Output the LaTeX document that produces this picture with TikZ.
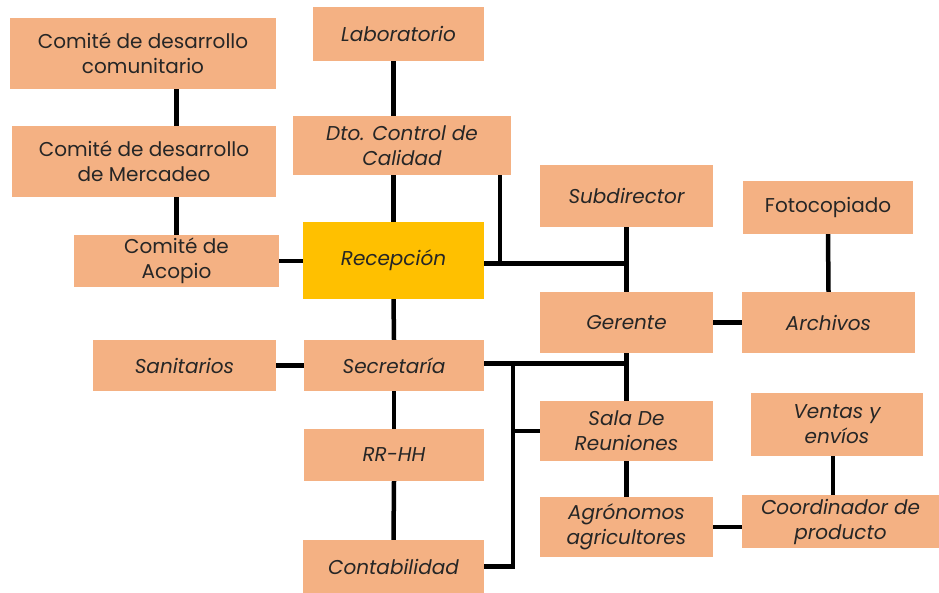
\documentclass[tikz,border=0pt]{standalone}
\usepackage{fontspec}
\setmainfont{Poppins}
\begin{document}
\begin{tikzpicture}[x=1pt,y=-1pt,
  box/.style={fill=boxc, inner sep=2pt, align=center, text=black!85, font=\fontsize{20}{25}\selectfont},
  itbox/.style={box, font=\fontsize{20}{25}\selectfont\itshape},
  conn/.style={line width=4.5pt, draw=black}]
\definecolor{boxc}{HTML}{F4B183}
\definecolor{yel}{HTML}{FFC000}
\useasboundingbox[fill=white] (0,0) rectangle (939,593);
\newcommand{\bx}[6]{\node[#1, minimum width=#4pt, minimum height=#5pt] (#2) at (#3) {#6};}
\bx{box}{com1}{143,53.5}{266}{71}{Comité de desarrollo\\comunitario}
\bx{box}{com2}{144,161.5}{264}{71}{Comité de desarrollo\\de Mercadeo}
\bx{box}{acop}{176.5,261}{205}{52}{Comité de\\Acopio}
\bx{itbox}{lab}{398.5,34}{171}{54}{Laboratorio}
\bx{itbox}{dto}{402,145.5}{218}{59}{Dto. Control de\\Calidad}
\bx{itbox,fill=yel}{rec}{393.5,260.5}{181}{77}{Recepción}
\bx{itbox}{sub}{626.5,196}{173}{62}{Subdirector}
\bx{box}{foto}{828,207.5}{170}{53}{Fotocopiado}
\bx{itbox}{ger}{626.5,322.5}{173}{61}{Gerente}
\bx{itbox}{arch}{828.5,322.5}{173}{61}{Archivos}
\bx{itbox}{san}{184.5,365.5}{183}{51}{Sanitarios}
\bx{itbox}{sec}{394,365.5}{180}{51}{Secretaría}
\bx{itbox}{rrhh}{394,455}{180}{52}{RR-HH}
\bx{itbox}{cont}{393.5,566.5}{181}{53}{Contabilidad}
\bx{itbox}{sala}{626.5,431}{173}{60}{Sala De\\Reuniones}
\bx{itbox}{ventas}{837,424.5}{172}{63}{Ventas y\\envíos}
\bx{itbox}{agro}{626.5,527}{173}{60}{Agrónomos\\agricultores}
\bx{itbox}{coord}{840.5,521.5}{197}{53}{Coordinador de\\producto}
% connectors
\draw[conn] (acop.north |- com1.south) -- (acop.north |- com2.north);
\draw[conn] (acop.north |- com2.south) -- (acop.north);
\draw[conn] (acop.east) -- (acop.east -| rec.west);
\draw[conn] (rec.north |- lab.south) -- (rec.north |- dto.north);
\draw[conn] (rec.north |- dto.south) -- (rec.north);
\coordinate (j1) at ([yshift=-3pt]rec.east -| sub.south);
\draw[conn] ([yshift=-3pt]rec.east) -- (j1);
\draw[conn] ([xshift=-11pt]dto.south east) -- ([xshift=-11pt]dto.south east |- j1);
\draw[conn] (sub.south) -- (ger.north);
\draw[conn] (ger.east) -- (arch.west);
\draw[conn] (foto.south) -- (arch.north);
\draw[conn] (rec.south) -- (sec.north);
\draw[conn] (san.east) -- (sec.west);
\draw[conn] (sec.south) -- (rrhh.north);
\draw[conn] (rrhh.south) -- (cont.north);
\coordinate (bt) at ([xshift=29pt,yshift=2pt]sec.east);
\draw[conn] ([yshift=2pt]sec.east) -- (bt -| ger.south);
\draw[conn] (ger.south) -- (ger.south |- sala.north);
\coordinate (bb) at (bt |- cont.east);
\draw[conn] (bt) -- (bb) -- (cont.east);
\draw[conn] (bt |- sala.west) -- (sala.west);
\draw[conn] (sala.south) -- (agro.north);
\draw[conn] (agro.east) -- (agro.east -| coord.west);
\draw[conn] ([xshift=-4pt]ventas.south) -- ([xshift=-4pt]ventas.south |- coord.north);
\end{tikzpicture}
\end{document}
